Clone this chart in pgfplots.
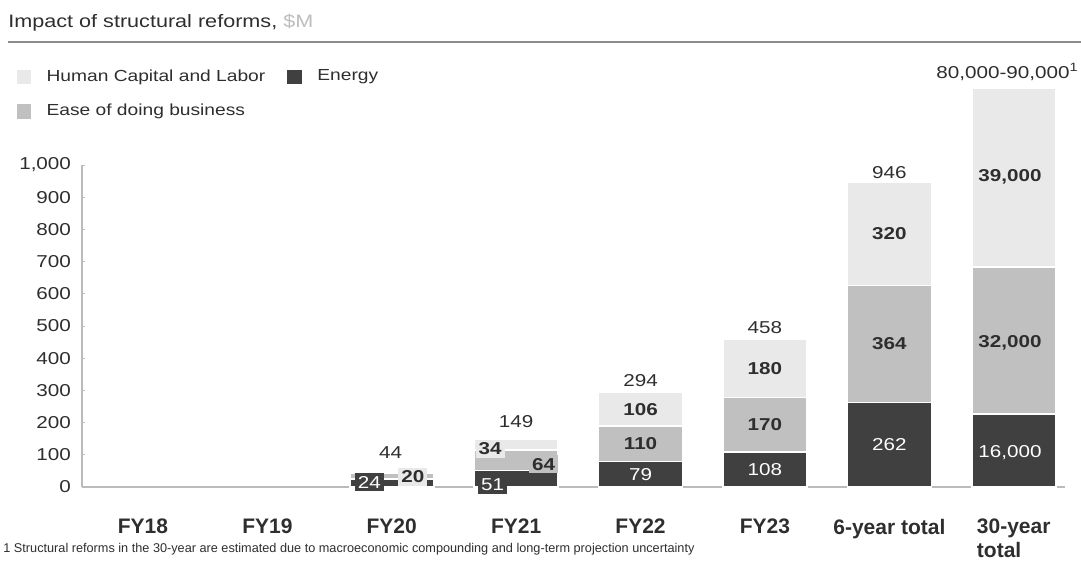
\documentclass[border=0pt]{standalone}
\usepackage{fontspec}
\setmainfont{Liberation Sans}[FakeStretch=1.2]
\newfontfamily\catfont{Liberation Sans}
\usepackage{pgfplots}
\pgfplotsset{compat=1.18}
\usepackage{pgfplotstable}

\definecolor{energy}{HTML}{404040}
\definecolor{ease}{HTML}{C0C0C0}
\definecolor{human}{HTML}{E9E9E9}
\definecolor{ink}{HTML}{2E2E2E}
\definecolor{axisgray}{HTML}{BBBBBB}
\definecolor{rulegray}{HTML}{8C8C8C}
\definecolor{unitgray}{HTML}{BDBDBD}

% yearly impact by reform area, $M
\pgfplotstableread{
x energy ease human
2 24  20  0
3 51  64  34
4 79  110 106
5 108 170 180
6 262 364 320
}\bars

% 30-year projection, $M (drawn on its own compressed scale)
\pgfplotstableread{
x energy ease human
7 16000 32000 39000
}\longrun

% segment labels: position and text
\pgfplotstableread{
x y t
1.82 15 24
2.81 6 51
4 39.5 79
5 54 108
6 131 262
6.97 106 16,000
}\darklabels

\pgfplotstableread{
x y t
3.22 71 64
4 134 110
5 193 170
6 444 364
6.97 447 32,000
}\easelabels

\pgfplotstableread{
x y t
2.17 31 20
2.79 118 34
4 242 106
5 368 180
6 786 320
6.97 962 39,000
}\humanlabels

\pgfplotstableread{
x y t
1.99 107 44
3.0 202 149
4 332 294
5 494 458
6 978 946
6.95 1289 {80,000-90,000\textsuperscript{1}}
}\totals

\pgfplotsset{
  frame/.style={x=62.2pt, xmin=-0.49, xmax=7.41, ymin=0, clip=false},
  seglabel/.style={only marks, mark=none, nodes near coords,
    point meta=explicit symbolic, nodes near coords align=center},
}

\begin{document}
\begin{tikzpicture}
\useasboundingbox (-41pt,-41pt) rectangle (499.5pt,243.5pt);

% title and rule
\node[anchor=base west, inner sep=0pt, text=ink, font=\fontsize{9}{11}\selectfont]
  at (-37pt,229.5pt) {Impact of structural reforms, \textcolor{unitgray}{\$M}};
\draw[rulegray, line width=1pt] (-37pt,222.5pt) -- (499.5pt,222.5pt);

% main axis FY20 .. 6-year total
\begin{axis}[frame, y=0.161pt, ymax=1000,
  ybar stacked, bar width=0.675,
  axis x line=bottom, axis y line=left,
  axis line style={-, draw=axisgray, line width=0.6pt},
  ytick={0,100,...,1000},
  tick align=inside, major tick length=1.5pt,
  ytick style={draw=axisgray, line width=0.5pt},
  xtick={0,...,7}, xtick style={draw=none},
  xticklabels={FY18,FY19,FY20,FY21,FY22,FY23,6-year total,{30-year\\total}},
  xticklabel style={align=left, text=ink,
    font=\catfont\bfseries\fontsize{10.5}{12}\selectfont, yshift=-12.5pt},
  yticklabel style={text=ink, font=\fontsize{8.6}{10}\selectfont, xshift=-2pt},
  /pgf/number format/assume math mode=true,
  legend columns=2, legend cell align=left,
  legend style={at={(-0.067,1.31)}, anchor=north west, draw=none, fill=none,
    inner sep=0pt, text=ink, font=\fontsize{8}{9.6}\selectfont, row sep=6pt,
    /tikz/every even column/.append style={column sep=9pt}},
  legend image code/.code={\fill[#1] (0pt,-3.6pt) rectangle (7.4pt,3.6pt);
    \path[draw=none, fill=none] (13pt,0pt) circle (0pt);},
]
\addlegendimage{fill=human, draw=none}
\addlegendentry{Human Capital and Labor}
\addlegendimage{fill=energy, draw=none}
\addlegendentry{Energy}
\addlegendimage{fill=ease, draw=none}
\addlegendentry{Ease of doing business}
\addplot[fill=energy, draw=white, line width=0.8pt] table[x=x, y=energy] {\bars};
\addplot[fill=ease, draw=white, line width=0.8pt] table[x=x, y=ease] {\bars};
\addplot[fill=human, draw=white, line width=0.8pt] table[x=x, y=human] {\bars};
\end{axis}

% 30-year bar on its own scale
\begin{axis}[frame, y=0.002293pt, ymax=70000, hide axis,
  ybar stacked, bar width=0.675]
\addplot[fill=energy, draw=white, line width=0.8pt] table[x=x, y=energy] {\longrun};
\addplot[fill=ease, draw=white, line width=0.8pt] table[x=x, y=ease] {\longrun};
\addplot[fill=human, draw=white, line width=0.8pt] table[x=x, y=human] {\longrun};
\end{axis}

% value labels
\begin{axis}[frame, y=0.161pt, ymax=1000, hide axis]
\addplot[seglabel, every node near coord/.append style={fill=energy, text=white,
  inner sep=1.5pt, font=\fontsize{8.6}{10}\selectfont}]
  table[x=x, y=y, meta=t] {\darklabels};
\addplot[seglabel, every node near coord/.append style={fill=ease, text=ink,
  inner sep=1.5pt, font=\bfseries\fontsize{8.6}{10}\selectfont}]
  table[x=x, y=y, meta=t] {\easelabels};
\addplot[seglabel, every node near coord/.append style={fill=human, text=ink,
  inner sep=1.5pt, font=\bfseries\fontsize{8.6}{10}\selectfont}]
  table[x=x, y=y, meta=t] {\humanlabels};
\addplot[seglabel, every node near coord/.append style={text=ink,
  inner sep=1pt, font=\fontsize{8.6}{10}\selectfont}]
  table[x=x, y=y, meta=t] {\totals};
\end{axis}

% footnote
\node[anchor=base west, inner sep=0pt, text=ink, font=\catfont\fontsize{6.35}{7.5}\selectfont]
  at (-39.5pt,-32.5pt) {1 Structural reforms in the 30-year are estimated due to macroeconomic compounding and long-term projection uncertainty};
\end{tikzpicture}
\end{document}
